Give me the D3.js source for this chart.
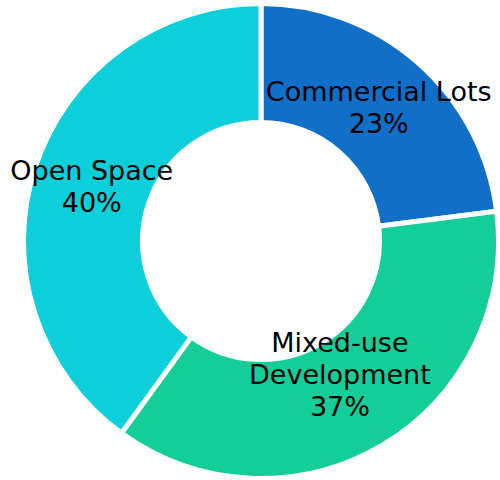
<!DOCTYPE html>
<html>
<head>
<meta charset="utf-8">
<script src="https://cdn.jsdelivr.net/npm/d3@7"></script>
<style>
  html, body { margin: 0; padding: 0; background: #fff; }
  svg { display: block; }
</style>
</head>
<body>
<svg id="chart" width="500" height="480"></svg>
<script>
// Land use breakdown (share of total area, %)
const categories = ["Commercial Lots", "Mixed-use Development", "Open Space"];
const shares = [23, 37, 40];
const colors = ["#116FC7", "#13CE99", "#0CCFDA"];

const width = 500, height = 480;
const cx = 261, cy = 241;
const outerR = 235, innerR = 121;
const gap = 5;               // white separator between slices
const fontSize = 27;
const lineHeight = 32;
const capHeight = fontSize * 0.72;

const svg = d3.select("#chart");
const g = svg.append("g").attr("transform", `translate(${cx},${cy})`);

const data = categories.map((c, i) => ({ name: c, value: shares[i], color: colors[i] }));

const pie = d3.pie().sort(null).value(d => d.value);
const arcs = pie(data);

// stroke is centred on the path edge, so widen the path by half the stroke
const arc = d3.arc()
  .innerRadius(innerR - gap / 2)
  .outerRadius(outerR + gap / 2);

g.selectAll("path.slice")
  .data(arcs)
  .join("path")
  .attr("class", "slice")
  .attr("d", arc)
  .attr("fill", d => d.data.color)
  .attr("stroke", "#fff")
  .attr("stroke-width", gap)
  .attr("stroke-linejoin", "miter");

// long names break onto two lines
function labelLines(d) {
  const lines = d.data.name.length > 16 ? d.data.name.split(" ") : [d.data.name];
  lines.push(Math.round(d.data.value) + "%");
  return lines;
}

const midR = (outerR + innerR) / 2;

g.selectAll("text.label")
  .data(arcs)
  .join("text")
  .attr("class", "label")
  .attr("text-anchor", "middle")
  .attr("font-family", "'DejaVu Sans', sans-serif")
  .attr("font-size", fontSize)
  .attr("fill", "#000")
  .each(function (d) {
    const lines = labelLines(d);
    // taller blocks are pulled toward the hole so they stay inside the ring
    const r = lines.length > 2 ? midR - 23 : midR;
    const [x, y] = d3.arc().innerRadius(r).outerRadius(r).centroid(d);
    const blockH = (lines.length - 1) * lineHeight + capHeight;
    const y0 = y - blockH / 2 + capHeight;
    d3.select(this).selectAll("tspan")
      .data(lines)
      .join("tspan")
      .attr("x", x)
      .attr("y", (t, i) => y0 + i * lineHeight)
      .text(t => t);
  });
</script>
</body>
</html>
